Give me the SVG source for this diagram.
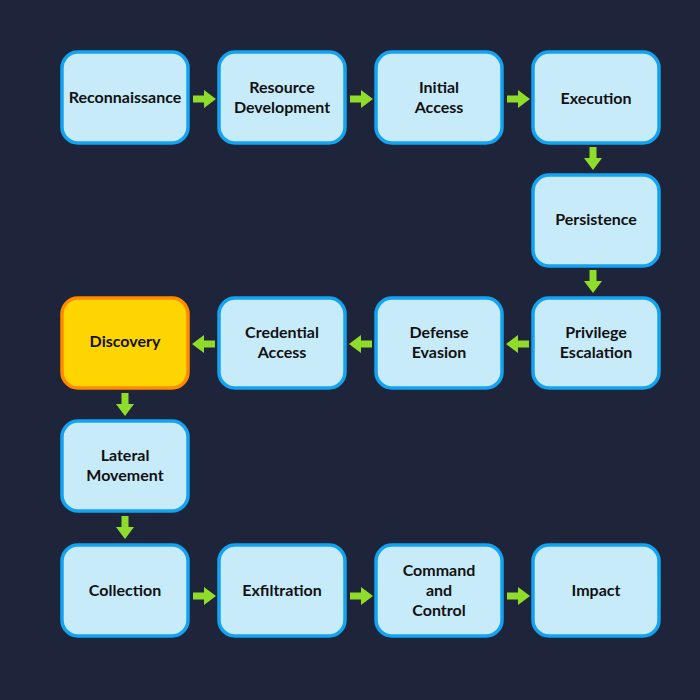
<svg xmlns="http://www.w3.org/2000/svg" width="700" height="700" viewBox="0 0 700 700">
<defs>
<style>
.box{fill:#c8ebfa;stroke:#12a4f2;stroke-width:3.5}
.hl{fill:#ffd500;stroke:#ff8a00;stroke-width:3.5}
text{font-family:Lato,"Noto Sans",sans-serif;font-weight:bold;font-size:16px;fill:#111;text-anchor:middle}
.arr{fill:#8fdc2a}
</style>
<path id="ar" class="arr" d="M0,-3.5 H11 V-9 L23,0 L11,9 V3.5 H0 Z"/>
</defs>
<rect width="700" height="700" fill="#1e253a"/>
<g id="connectors">
<use href="#ar" transform="translate(193,99)"/>
<use href="#ar" transform="translate(350,99)"/>
<use href="#ar" transform="translate(507,99)"/>
<use href="#ar" transform="translate(593,147) rotate(90)"/>
<use href="#ar" transform="translate(593,270) rotate(90)"/>
<use href="#ar" transform="translate(529,344) rotate(180)"/>
<use href="#ar" transform="translate(372,344) rotate(180)"/>
<use href="#ar" transform="translate(215,344) rotate(180)"/>
<use href="#ar" transform="translate(125,393) rotate(90)"/>
<use href="#ar" transform="translate(125,516) rotate(90)"/>
<use href="#ar" transform="translate(193,596)"/>
<use href="#ar" transform="translate(350,596)"/>
<use href="#ar" transform="translate(507,596)"/>
</g>
<g id="n1"><rect class="box" x="62" y="52" width="126" height="91" rx="16"/><text x="125" y="103">Reconnaissance</text></g>
<g id="n2"><rect class="box" x="219" y="52" width="126" height="91" rx="16"/><text x="282" y="93">Resource</text><text x="282" y="113">Development</text></g>
<g id="n3"><rect class="box" x="376" y="52" width="126" height="91" rx="16"/><text x="439" y="93">Initial</text><text x="439" y="113">Access</text></g>
<g id="n4"><rect class="box" x="533" y="52" width="126" height="91" rx="16"/><text x="596" y="104">Execution</text></g>
<g id="n5"><rect class="box" x="533" y="175" width="126" height="91" rx="16"/><text x="596" y="225">Persistence</text></g>
<g id="n6"><rect class="box" x="533" y="298" width="126" height="90" rx="16"/><text x="596" y="338">Privilege</text><text x="596" y="358">Escalation</text></g>
<g id="n7"><rect class="box" x="376" y="298" width="126" height="90" rx="16"/><text x="439" y="338">Defense</text><text x="439" y="358">Evasion</text></g>
<g id="n8"><rect class="box" x="219" y="298" width="126" height="90" rx="16"/><text x="282" y="338">Credential</text><text x="282" y="358">Access</text></g>
<g id="n9"><rect class="hl" x="62" y="298" width="126" height="90" rx="16"/><text x="125" y="347">Discovery</text></g>
<g id="n10"><rect class="box" x="62" y="421" width="126" height="90" rx="16"/><text x="125" y="461">Lateral</text><text x="125" y="481">Movement</text></g>
<g id="n11"><rect class="box" x="62" y="545" width="126" height="91" rx="16"/><text x="125" y="596">Collection</text></g>
<g id="n12"><rect class="box" x="219" y="545" width="126" height="91" rx="16"/><text x="282" y="596">Exfiltration</text></g>
<g id="n13"><rect class="box" x="376" y="545" width="126" height="91" rx="16"/><text x="439" y="576">Command</text><text x="439" y="596">and</text><text x="439" y="616">Control</text></g>
<g id="n14"><rect class="box" x="533" y="545" width="126" height="91" rx="16"/><text x="596" y="596">Impact</text></g>
</svg>
